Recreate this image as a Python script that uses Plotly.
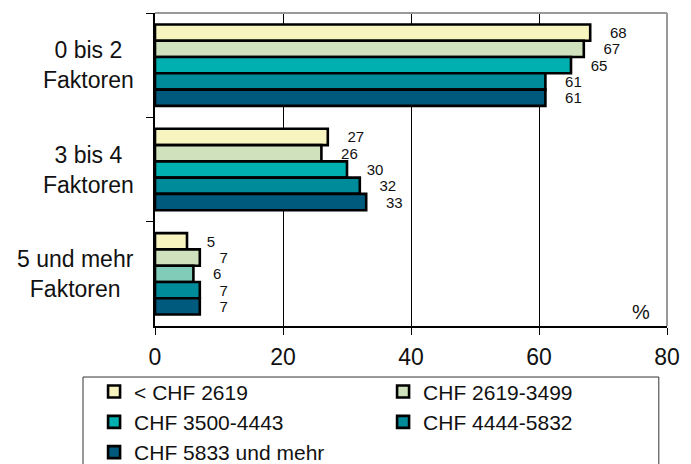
import plotly.graph_objects as go

categories = ["0 bis 2<br>Faktoren", "3 bis 4<br>Faktoren", "5 und mehr<br>Faktoren"]
series_names = ["< CHF 2619", "CHF 2619-3499", "CHF 3500-4443", "CHF 4444-5832", "CHF 5833 und mehr"]
values = [
    [68, 27, 5],
    [67, 26, 7],
    [65, 30, 6],
    [61, 32, 7],
    [61, 33, 7],
]
series_colors = ["#f8f4c0", "#cfe2bd", "#00b0b0", "#008b9b", "#005a7d"]
# the "5 und mehr" bar of the middle income band is drawn in a lighter teal
point_colors = {(2, 2): "#80ccb8"}
x_ticks = [0, 20, 40, 60, 80]

FONT = "Liberation Sans, Arial, sans-serif"

fig = go.Figure()
for i, (name, vals) in enumerate(zip(series_names, values)):
    colors = [point_colors.get((i, j), series_colors[i]) for j in range(len(vals))]
    fig.add_trace(go.Bar(
        name=name,
        orientation="h",
        y=categories,
        x=vals,
        marker=dict(color=colors, line=dict(color="black", width=2.6)),
        text=vals,
        texttemplate="\u00a0\u00a0\u00a0\u00a0%{x}",
        textposition="outside",
        constraintext="none",
        cliponaxis=False,
        textfont=dict(family=FONT, size=15, color="#111111"),
    ))

# category labels, centred line by line
for cat in categories:
    fig.add_annotation(
        x=-0.038, xref="paper", y=cat, yref="y",
        text=cat, showarrow=False, xanchor="right", yanchor="middle",
        align="center", font=dict(family=FONT, size=23, color="#111111"),
    )

fig.add_annotation(
    x=1, xref="paper", y=0, yref="paper", text="%", showarrow=False,
    xanchor="right", yanchor="bottom", xshift=-15, yshift=1,
    font=dict(family=FONT, size=20, color="#111111"),
)

# grey frame on top and right
fig.add_shape(type="line", xref="paper", yref="paper", x0=0, x1=1, y0=1, y1=1,
              line=dict(color="#999999", width=2), layer="above")
fig.add_shape(type="line", xref="paper", yref="paper", x0=1, x1=1, y0=0, y1=1,
              line=dict(color="#999999", width=2), layer="above")
# legend frame (runs past the bottom edge of the page)
fig.add_shape(type="rect", xref="paper", yref="paper",
              x0=-0.1406, x1=0.984, y0=-0.47, y1=-0.163,
              line=dict(color="#333333", width=1), fillcolor="rgba(0,0,0,0)",
              layer="below")

fig.update_layout(
    width=691, height=464,
    margin=dict(l=155, r=24, t=13, b=138, autoexpand=False),
    paper_bgcolor="white", plot_bgcolor="white",
    barmode="group", bargap=0.22, bargroupgap=0,
    font=dict(family=FONT, size=22, color="#111111"),
    xaxis=dict(
        range=[0, 80], tickvals=x_ticks, ticktext=[str(t) for t in x_ticks],
        showgrid=True, gridcolor="black", gridwidth=1,
        showline=True, linecolor="black", linewidth=1.5,
        ticks="outside", ticklen=7, tickcolor="black",
        ticklabelstandoff=3,
        tickfont=dict(family=FONT, size=23, color="#111111"),
        zeroline=False,
    ),
    yaxis=dict(
        autorange="reversed", showticklabels=False,
        tickson="boundaries", ticks="outside", ticklen=7, tickcolor="black",
        showline=True, linecolor="black", linewidth=1.5, showgrid=False,
    ),
    legend=dict(
        orientation="h", x=-0.119, xanchor="left", y=-0.145, yanchor="top",
        borderwidth=0, bgcolor="rgba(0,0,0,0)",
        font=dict(family=FONT, size=21, color="#111111"),
        entrywidth=244, entrywidthmode="pixels", traceorder="normal",
    ),
    showlegend=True,
)

fig.write_html("out.html")
